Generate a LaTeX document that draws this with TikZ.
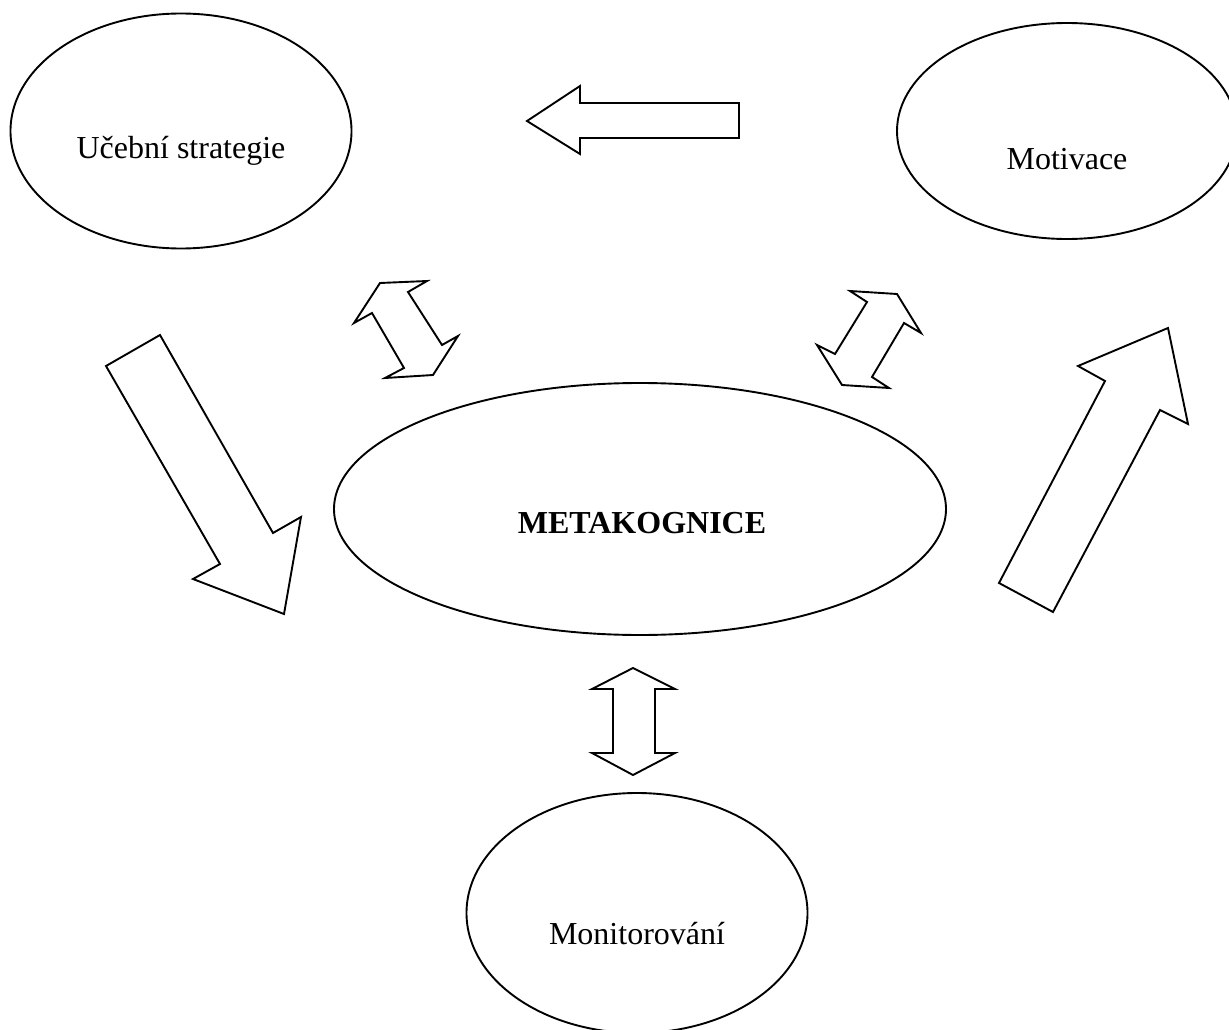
\documentclass[tikz,border=0pt]{standalone}
\usepackage{fontspec}
\setmainfont{Liberation Serif}
\usetikzlibrary{shapes.geometric}
\begin{document}
\begin{tikzpicture}[x=1pt,y=-1pt,
  oval/.style={draw=black,line width=1.9pt,ellipse,inner sep=0pt,outer sep=0pt},
  lbl/.style={anchor=base,inner sep=0pt,font=\fontsize{32}{38}\selectfont},
  blockarrow/.style={draw=black,line width=1.9pt,line join=miter,fill=white}]
\useasboundingbox (0,0) rectangle (1229,1030);
\fill[white] (0,0) rectangle (1229,1030);
% ellipses
\node[oval,minimum width=341pt,minimum height=235pt] (uc) at (181,131) {};
\node[oval,minimum width=340pt,minimum height=216pt] (mo) at (1067,131) {};
\node[oval,minimum width=612pt,minimum height=252pt] (me) at (640,509) {};
\node[oval,minimum width=341pt,minimum height=240pt] (mn) at (637,913) {};
% labels
\node[lbl] (tuc) at (181,158) {Učební strategie};
\node[lbl] (tmo) at (1067,169) {Motivace};
\node[lbl,font=\fontsize{32}{38}\selectfont\bfseries] (tme) at (642,533) {METAKOGNICE};
\node[lbl] (tmn) at (637,944) {Monitorování};
% top arrow (Motivace -> Učební strategie)
\draw[blockarrow] (527,121) -- (580,86) -- (580,103) -- (739,103) -- (739,138) -- (580,138) -- (580,154) -- cycle;
% big arrow down-right (Učební strategie -> Metakognice)
\draw[blockarrow] (106,366) -- (160,335) -- (273,533) -- (301,517) -- (284,614) -- (193,579) -- (220,564) -- cycle;
% big arrow up-right (Metakognice -> Motivace)
\draw[blockarrow] (999,583) -- (1105,381) -- (1078,366) -- (1168,328) -- (1188,424) -- (1160,410) -- (1053,612) -- cycle;
% small double arrow left
\draw[blockarrow] (380,283) -- (427,281) -- (408,292) -- (442,345) -- (458,336) -- (433,375) -- (385,378) -- (404,368) -- (372,313) -- (354,323) -- cycle;
% small double arrow right
\draw[blockarrow] (850,291) -- (897,294) -- (921,333) -- (904,323) -- (872,377) -- (889,388) -- (842,385) -- (817,345) -- (835,354) -- (867,302) -- cycle;
% vertical double arrow
\draw[blockarrow] (633,668) -- (675,689) -- (655,689) -- (655,753) -- (675,753) -- (633,775) -- (592,753) -- (613,753) -- (613,689) -- (592,689) -- cycle;
\end{tikzpicture}
\end{document}
